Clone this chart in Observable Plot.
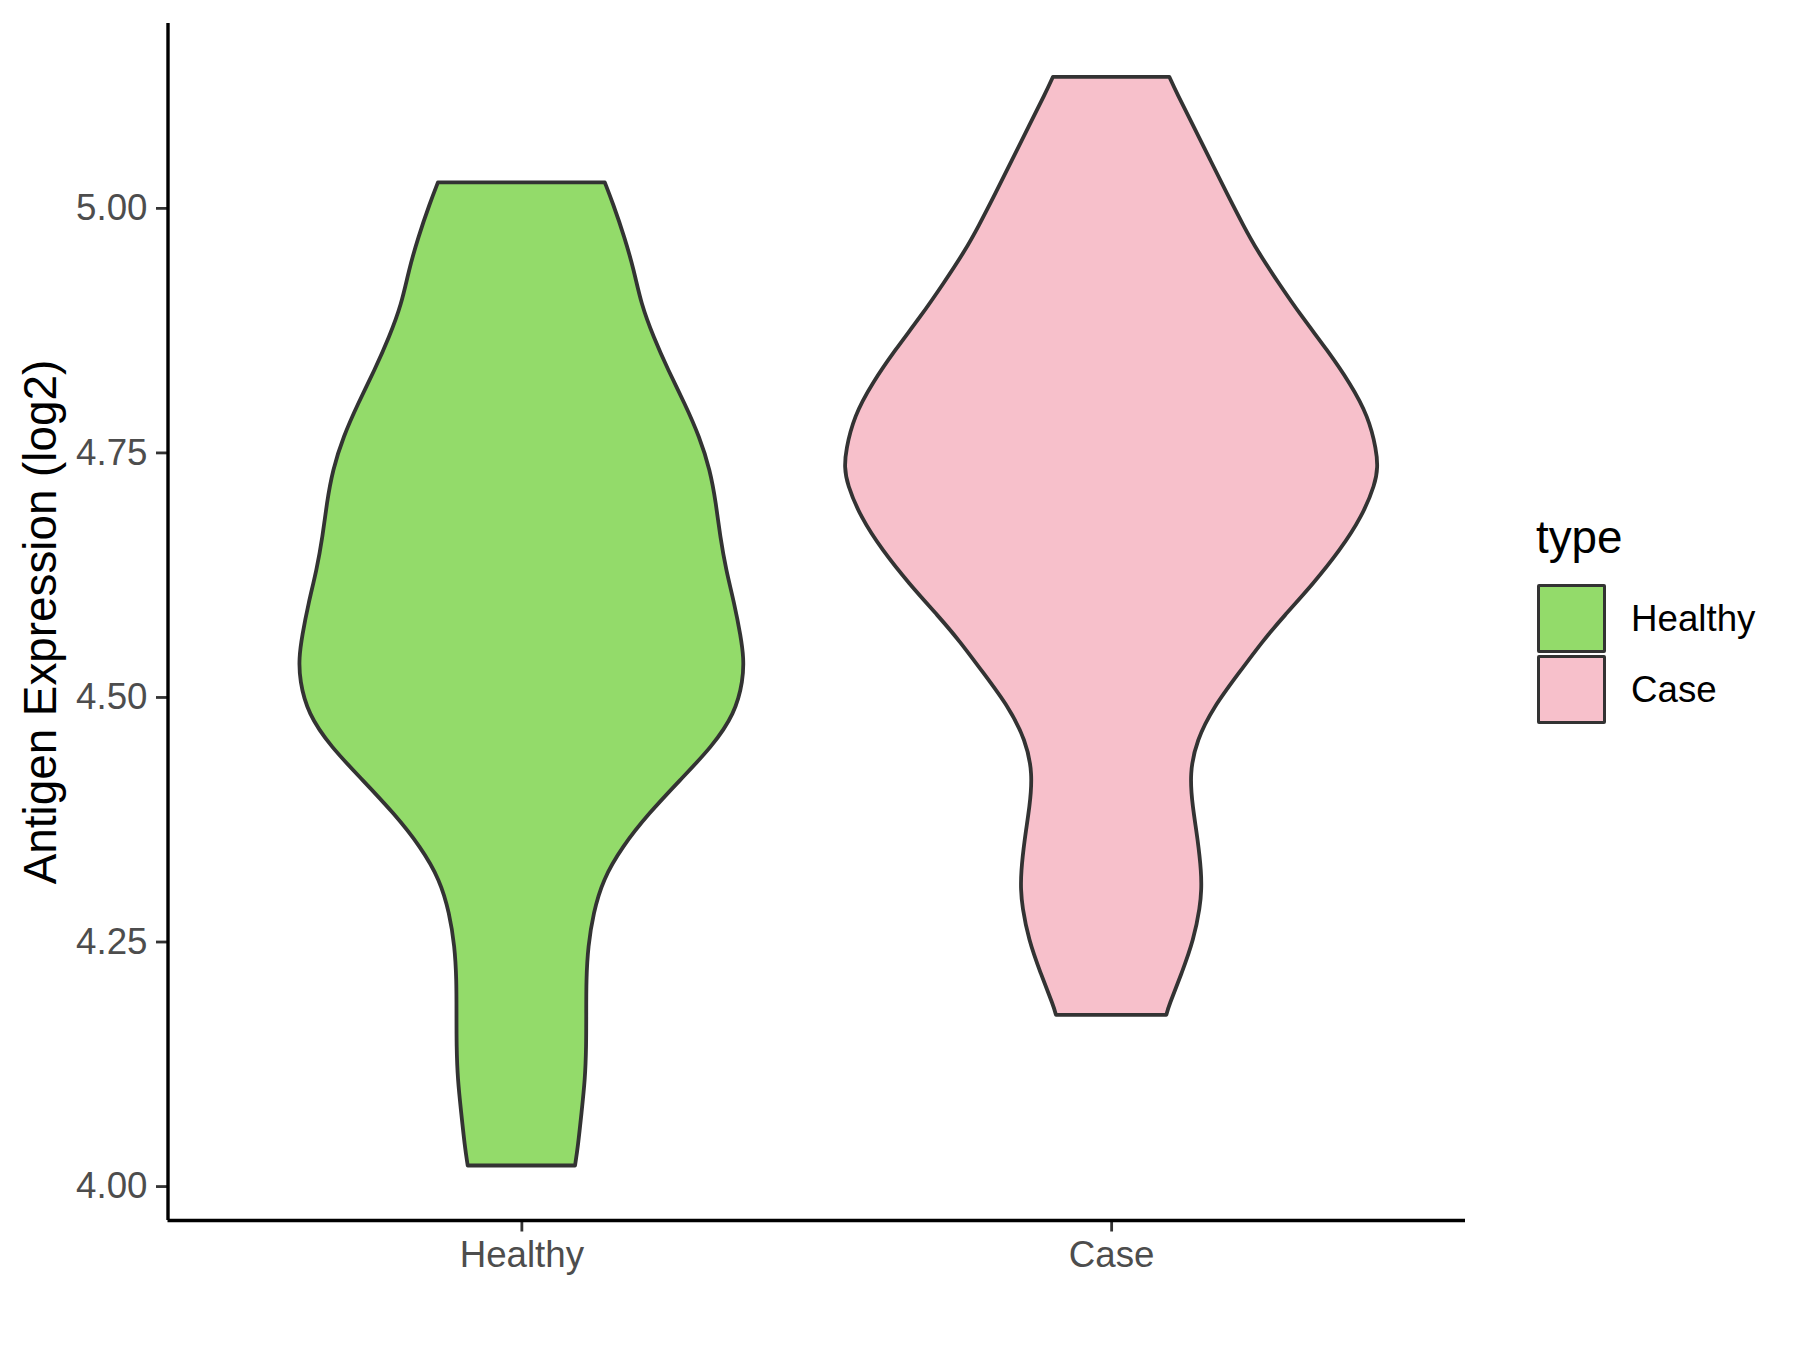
<!DOCTYPE html>
<html>
<head>
<meta charset="utf-8">
<script src="https://cdn.jsdelivr.net/npm/d3@7"></script>
<script src="https://cdn.jsdelivr.net/npm/@observablehq/plot@0.6"></script>
<style>
  html, body { margin: 0; padding: 0; background: #ffffff; }
  #wrap { position: relative; width: 1800px; height: 1350px; background: #ffffff; font-family: "Liberation Sans", Arial, sans-serif; }
  #chart { position: absolute; left: 0; top: 0; }
  .legend-title { position: absolute; left: 1536px; top: 515px; font-size: 45.8px; line-height: 1; color: #000; }
  .key { position: absolute; left: 1537px; width: 69px; height: 69px; box-sizing: border-box; border: 3.6px solid #333333; border-radius: 2px; }
  .key-label { position: absolute; left: 1631px; font-size: 36.7px; line-height: 1; color: #000; }
</style>
</head>
<body>
<div id="wrap">
  <div id="chart"></div>
  <div id="legend"></div>
</div>
<script>
// ---- data ----
const categories = ["Healthy", "Case"];
const fillColors = ["#93DB6A", "#F7C0CB"];
const yTicks = [4.00, 4.25, 4.50, 4.75, 5.00];
const yLabel = "Antigen Expression (log2)";
const legendTitle = "type";

// Healthy violin profile: expression value and half-width (in category units)
const healthyY = [4.021, 4.041, 4.075, 4.109, 4.143, 4.177, 4.211, 4.245, 4.279, 4.313, 4.347, 4.381, 4.415, 4.449, 4.483, 4.517, 4.540, 4.562, 4.596, 4.630, 4.664, 4.698, 4.732, 4.766, 4.800, 4.834, 4.868, 4.902, 4.936, 4.970, 5.005, 5.026];
const healthyHalfWidth = [0.091, 0.096, 0.102, 0.108, 0.110, 0.110, 0.110, 0.113, 0.122, 0.138, 0.171, 0.216, 0.269, 0.323, 0.362, 0.376, 0.377, 0.372, 0.361, 0.347, 0.337, 0.330, 0.320, 0.302, 0.277, 0.249, 0.224, 0.203, 0.191, 0.175, 0.155, 0.1415];

// Case violin profile
const caseY = [4.175, 4.184, 4.218, 4.252, 4.286, 4.303, 4.320, 4.354, 4.388, 4.422, 4.456, 4.490, 4.524, 4.558, 4.582, 4.616, 4.650, 4.684, 4.718, 4.735, 4.752, 4.787, 4.821, 4.855, 4.889, 4.923, 4.957, 4.981, 5.015, 5.049, 5.083, 5.117, 5.134];
const caseHalfWidth = [0.0936, 0.0975, 0.120, 0.140, 0.151, 0.153, 0.153, 0.147, 0.138, 0.133, 0.145, 0.174, 0.216, 0.258, 0.292, 0.343, 0.388, 0.425, 0.448, 0.452, 0.450, 0.436, 0.405, 0.366, 0.323, 0.284, 0.247, 0.225, 0.196, 0.168, 0.140, 0.1115, 0.0986];

const xDomain = [0.4, 2.6];
const yDomain = [3.9653, 5.189];

// ---- build table ----
const profiles = [
  {cat: categories[0], ys: healthyY, ws: healthyHalfWidth},
  {cat: categories[1], ys: caseY, ws: caseHalfWidth}
];
const rows = [];
profiles.forEach((p, i) => {
  const pos = i + 1;
  p.ys.forEach((y, j) => {
    rows.push({cat: p.cat, y, x1: pos - p.ws[j], x2: pos + p.ws[j]});
  });
});

const font = '"Liberation Sans", Arial, sans-serif';

const chart = Plot.plot({
  width: 1510,
  height: 1350,
  marginLeft: 167.5,
  marginRight: 45,
  marginTop: 23,
  marginBottom: 130,
  style: {fontFamily: font, background: "#ffffff", overflow: "visible"},
  x: {domain: xDomain},
  y: {domain: yDomain},
  color: {domain: categories, range: fillColors},
  marks: [
    Plot.areaX(rows, {
      y: "y", x1: "x1", x2: "x2", z: "cat",
      fill: "cat", stroke: "#333333", strokeWidth: 3.8,
      curve: "basis", strokeLinejoin: "round"
    }),
    Plot.axisY({
      ticks: yTicks, tickFormat: d3.format(".2f"),
      tickSize: 11.5, tickPadding: 9, fontSize: 36.7,
      color: "#4D4D4D", stroke: "#333333", strokeWidth: 2.8, label: null
    }),
    Plot.axisX({
      ticks: [1, 2], tickFormat: d => categories[d - 1],
      tickSize: 11.5, tickPadding: 9, fontSize: 36.7,
      color: "#4D4D4D", stroke: "#333333", strokeWidth: 2.8, label: null
    }),
    Plot.ruleX([xDomain[0]], {stroke: "#000000", strokeWidth: 3.4}),
    Plot.ruleY([yDomain[0]], {stroke: "#000000", strokeWidth: 3.4}),
    Plot.text([yLabel], {
      text: d => d, frameAnchor: "left", rotate: -90, dx: -112.5,
      textAnchor: "middle", lineAnchor: "bottom", fontSize: 45.8, fill: "#000000"
    })
  ]
});
document.getElementById("chart").appendChild(chart);

// ---- legend (HTML, to the right of the plot) ----
const legend = document.getElementById("legend");
const t = document.createElement("div");
t.className = "legend-title";
t.textContent = legendTitle;
legend.appendChild(t);
categories.forEach((c, i) => {
  const k = document.createElement("div");
  k.className = "key";
  k.style.top = (584 + i * 71) + "px";
  k.style.background = fillColors[i];
  legend.appendChild(k);
  const l = document.createElement("div");
  l.className = "key-label";
  l.style.top = (600.6 + i * 71) + "px";
  l.textContent = c;
  legend.appendChild(l);
});
</script>
</body>
</html>
